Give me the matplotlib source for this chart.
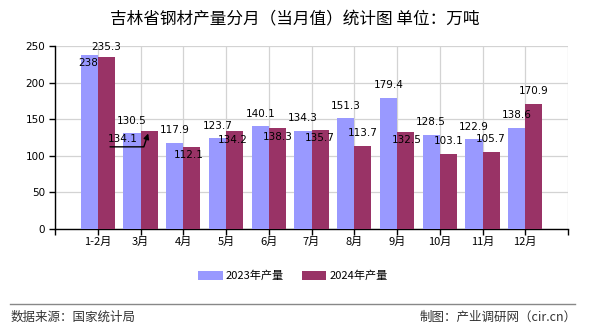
import numpy as np
import matplotlib
matplotlib.use("Agg")
import matplotlib.pyplot as plt

plt.rcParams['font.family'] = ['Noto Sans CJK SC', 'DejaVu Sans']

categories = ["1-2月", "3月", "4月", "5月", "6月", "7月", "8月", "9月", "10月", "11月", "12月"]
prod_2023 = [238, 130.5, 117.9, 123.7, 140.1, 134.3, 151.3, 179.4, 128.5, 122.9, 138.6]
prod_2024 = [235.3, 134.1, 112.1, 134.2, 138.3, 135.7, 113.7, 132.5, 103.1, 105.7, 170.9]
series_names = ["2023年产量", "2024年产量"]
yticks = [0, 50, 100, 150, 200, 250]

# label placement: offset (dx, dy) in pixels from bar top centre (dy positive = up)
off_2023 = [(-1, -8.5)] + [(0, 12.5)] * 10
off_2024 = [(0, 10), (-26.5, -8.5), (-3, -8), (-2, -9), (0, -9), (0, -8.6),
            (0, 12.5), (1, -8), (0, 12.8), (0, 12.3), (0, 13)]

c1 = "#9999FF"
c2 = "#993366"

fig = plt.figure(figsize=(5.9, 3.3), dpi=100)
ax = fig.add_axes([55/590, 1-229/330, (568-55)/590, (229-46)/330])

x = np.arange(len(categories))
w = 0.4
b1 = ax.bar(x - w/2, prod_2023, width=w, color=c1, zorder=3, label=series_names[0])
b2 = ax.bar(x + w/2, prod_2024, width=w, color=c2, zorder=3, label=series_names[1])

ax.set_xlim(-1, 11)
ax.set_ylim(0, 250)
ax.set_yticks(yticks)
ax.set_yticklabels([str(t) for t in yticks], fontsize=7.5, family='DejaVu Sans')
ax.set_xticks(list(range(-1, 12)))
ax.set_xticklabels([""] + categories + [""], fontsize=8)

ax.grid(True, color="#D3D3D3", lw=0.9, zorder=0)
for s in ["top", "right"]:
    ax.spines[s].set_visible(False)
ax.spines["left"].set_color("black")
ax.spines["bottom"].set_color("black")
ax.spines["left"].set_linewidth(1)
ax.spines["bottom"].set_linewidth(1)
ax.tick_params(axis='both', length=4, width=1, color='black', pad=2)
ax.tick_params(axis='y', pad=3)

for xi, v, (dx, dy) in zip(x - w/2, prod_2023, off_2023):
    ax.annotate(f"{v:g}", xy=(xi, v), xytext=(dx, dy), textcoords='offset pixels',
                ha='center', va='center', fontsize=7.5, family='DejaVu Sans', zorder=5)
for xi, v, (dx, dy) in zip(x + w/2, prod_2024, off_2024):
    ax.annotate(f"{v:g}", xy=(xi, v), xytext=(dx, dy), textcoords='offset pixels',
                ha='center', va='center', fontsize=7.5, family='DejaVu Sans', zorder=5)

# leader arrow for the 3月 2024 label
ax.annotate("", xy=(x[1] + w/2, prod_2024[1]), xytext=(-39, -16), textcoords='offset pixels',
            arrowprops=dict(arrowstyle='-|>', color='black', lw=1, shrinkA=0, shrinkB=2,
                            connectionstyle="angle,angleA=0,angleB=72,rad=0",
                            mutation_scale=8), zorder=6)

fig.text(295/590, 1-20/330, "吉林省钢材产量分月（当月值）统计图 单位：万吨",
         ha='center', va='center', fontsize=12)

leg = fig.legend(loc='center', bbox_to_anchor=(293/590, 1-276/330), ncol=2, frameon=False,
                 fontsize=8, handlelength=2.2, handleheight=0.9, columnspacing=1.6,
                 handletextpad=0.3)

fig.add_artist(plt.Line2D([10/590, 575/590], [1-304/330, 1-304/330], color="#888888", lw=1,
                          transform=fig.transFigure))
fig.text(11/590, 1-317/330, "数据来源：国家统计局", ha='left', va='center', fontsize=9, color="#333333")
fig.text(577/590, 1-317/330, "制图：产业调研网（cir.cn）", ha='right', va='center', fontsize=9, color="#333333")

fig.savefig("out.png", dpi=100)
